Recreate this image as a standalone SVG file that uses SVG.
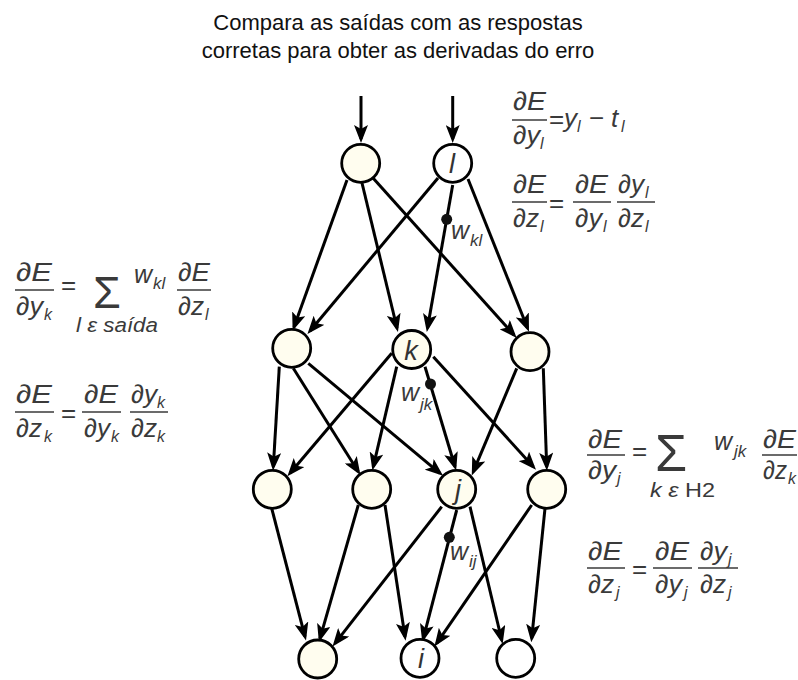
<svg xmlns="http://www.w3.org/2000/svg" width="798" height="680" viewBox="0 0 798 680">
<defs>
<marker id="ah" markerUnits="userSpaceOnUse" markerWidth="18" markerHeight="14" refX="14" refY="7" orient="auto" viewBox="0 0 18 14">
<path d="M0,0 L18,7 L0,14 L4,7 z" fill="#000"/>
</marker>
<style>
.title{font-family:"Liberation Sans",Arial,sans-serif;font-size:22px;fill:#111;text-anchor:middle}
.e{stroke:#000;stroke-width:3;fill:none;marker-end:url(#ah)}
.n{fill:#fffdef;stroke:#000;stroke-width:2.8}
.nw{fill:#fff;stroke:#000;stroke-width:2.8}
.lab{font-family:"Liberation Sans",Arial,sans-serif;font-style:italic;font-size:27px;fill:#333;text-anchor:middle}
.f{font-family:"Liberation Sans",Arial,sans-serif;font-style:italic;font-size:26px;fill:#3a3a3a}
.s{font-size:16px}
.up{font-style:normal}
.bar{stroke:#3a3a3a;stroke-width:1.6}
.w{font-family:"Liberation Sans",Arial,sans-serif;font-style:italic;font-size:25px;fill:#3a3a3a}
.ws{font-family:"Liberation Sans",Arial,sans-serif;font-style:italic;font-size:17px;fill:#3a3a3a}
.dot{fill:#111}
</style>
</defs>
<rect width="798" height="680" fill="#fff"/>
<text class="title" x="398" y="30">Compara as saídas com as respostas</text>
<text class="title" x="398" y="58">corretas para obter as derivadas do erro</text>

<g id="connectors">
<line class="e" x1="361" y1="96" x2="361" y2="139"/>
<line class="e" x1="452.7" y1="96" x2="452.7" y2="139"/>
<line class="e" x1="347" y1="180" x2="294" y2="327"/>
<line class="e" x1="362" y1="183" x2="397" y2="328"/>
<line class="e" x1="373" y1="178" x2="514" y2="335"/>
<line class="e" x1="438" y1="178" x2="310" y2="331"/>
<line class="e" x1="452.7" y1="185" x2="427.5" y2="328"/>
<line class="e" x1="468" y1="179" x2="527.5" y2="328"/>
<line class="e" x1="279.3" y1="366.7" x2="273.3" y2="466.7"/>
<line class="e" x1="293.3" y1="368.3" x2="358.3" y2="471.7"/>
<line class="e" x1="308.3" y1="363.3" x2="440" y2="473.3"/>
<line class="e" x1="391.7" y1="353.3" x2="290" y2="473.3"/>
<line class="e" x1="396.7" y1="366.7" x2="373.3" y2="466.7"/>
<line class="e" x1="425" y1="366.7" x2="455" y2="466.7"/>
<line class="e" x1="433.3" y1="356.7" x2="533.3" y2="466.7"/>
<line class="e" x1="516.7" y1="368.3" x2="473.3" y2="471.7"/>
<line class="e" x1="543.3" y1="368.3" x2="546.7" y2="466.7"/>
<line class="e" x1="271.7" y1="508.3" x2="305" y2="636.7"/>
<line class="e" x1="358.3" y1="505" x2="320" y2="638.3"/>
<line class="e" x1="385" y1="505" x2="405" y2="636.7"/>
<line class="e" x1="441.7" y1="506.7" x2="335" y2="643.3"/>
<line class="e" x1="456.7" y1="510" x2="423.3" y2="638.3"/>
<line class="e" x1="470" y1="506.7" x2="501.7" y2="640"/>
<line class="e" x1="531.7" y1="505" x2="436.7" y2="643.3"/>
<line class="e" x1="545" y1="508.3" x2="531.7" y2="638.3"/>
<circle class="dot" cx="446.7" cy="219.3" r="5.5"/>
<circle class="dot" cx="430.5" cy="384" r="5.5"/>
<circle class="dot" cx="449.3" cy="537.3" r="5.5"/>
<text class="w" x="451" y="239">w</text><text class="ws" x="470" y="246">kl</text>
<text class="w" x="401" y="401">w</text><text class="ws" x="420" y="410">jk</text>
<text class="w" x="450" y="560">w</text><text class="ws" x="469" y="567">ij</text>
</g>

<g id="node-a"><circle class="n" cx="360.7" cy="163.3" r="19"/></g>
<g id="node-l"><circle class="nw" cx="452.7" cy="163.3" r="19"/><text class="lab" x="452" y="173">l</text></g>
<g id="node-m1"><circle class="n" cx="291.7" cy="348.3" r="19"/></g>
<g id="node-k"><circle class="n" cx="411.7" cy="349.5" r="19"/><text class="lab" x="411" y="360">k</text></g>
<g id="node-m3"><circle class="n" cx="530" cy="351.7" r="19"/></g>
<g id="node-n1"><circle class="n" cx="272.3" cy="489.3" r="19"/></g>
<g id="node-n2"><circle class="n" cx="371.7" cy="489.3" r="19"/></g>
<g id="node-j"><circle class="n" cx="456.7" cy="489.3" r="19"/><text class="lab" x="458" y="499">j</text></g>
<g id="node-n4"><circle class="n" cx="546.7" cy="489.3" r="19"/></g>
<g id="node-b1"><circle class="n" cx="317.7" cy="659" r="19"/></g>
<g id="node-i"><circle class="nw" cx="420" cy="658.3" r="19"/><text class="lab" x="421" y="668">i</text></g>
<g id="node-b3"><circle class="nw" cx="515.7" cy="658.3" r="19"/></g>

<g id="formula-top-right">
<text class="f" x="513" y="110" textLength="33" lengthAdjust="spacingAndGlyphs">∂E</text>
<line class="bar" x1="512" y1="120" x2="547" y2="120"/>
<text class="f" x="513" y="144" textLength="27" lengthAdjust="spacingAndGlyphs">∂y</text><text class="f s" x="540" y="149">l</text>
<text class="f up" x="549" y="128">=</text>
<text class="f" x="564" y="127">y</text><text class="f s" x="577" y="132">l</text>
<text class="f up" x="589" y="127">−</text>
<text class="f" x="611" y="127">t</text><text class="f s" x="621" y="132">l</text>

<text class="f" x="513" y="193" textLength="33" lengthAdjust="spacingAndGlyphs">∂E</text>
<line class="bar" x1="512" y1="202" x2="547" y2="202"/>
<text class="f" x="513" y="227" textLength="26" lengthAdjust="spacingAndGlyphs">∂z</text><text class="f s" x="540" y="232">l</text>
<text class="f up" x="549" y="212">=</text>
<text class="f" x="575" y="193" textLength="33" lengthAdjust="spacingAndGlyphs">∂E</text>
<line class="bar" x1="573" y1="202" x2="611" y2="202"/>
<text class="f" x="575" y="227" textLength="27" lengthAdjust="spacingAndGlyphs">∂y</text><text class="f s" x="603" y="232">l</text>
<text class="f" x="618" y="193" textLength="26" lengthAdjust="spacingAndGlyphs">∂y</text><text class="f s" x="645" y="198">l</text>
<line class="bar" x1="617" y1="202" x2="655" y2="202"/>
<text class="f" x="618" y="227" textLength="26" lengthAdjust="spacingAndGlyphs">∂z</text><text class="f s" x="645" y="232">l</text>
</g>

<g id="formula-left">
<text class="f" x="16" y="281" textLength="36" lengthAdjust="spacingAndGlyphs">∂E</text>
<line class="bar" x1="15" y1="290" x2="54" y2="290"/>
<text class="f" x="16" y="315" textLength="27" lengthAdjust="spacingAndGlyphs">∂y</text><text class="f s" x="44" y="320">k</text>
<text class="f up" x="61" y="294">=</text>
<text class="f up" x="93" y="308" style="font-size:45px">Σ</text>
<text class="w" x="134" y="283">w</text><text class="ws" x="153" y="289">kl</text>
<text class="f" x="178" y="281" textLength="32" lengthAdjust="spacingAndGlyphs">∂E</text>
<line class="bar" x1="177" y1="290" x2="211" y2="290"/>
<text class="f" x="178" y="315" textLength="26" lengthAdjust="spacingAndGlyphs">∂z</text><text class="f s" x="205" y="320">l</text>
<text class="f" x="76" y="332" style="font-size:20px" textLength="82" lengthAdjust="spacingAndGlyphs">l ε saída</text>

<text class="f" x="16" y="403" textLength="36" lengthAdjust="spacingAndGlyphs">∂E</text>
<line class="bar" x1="15" y1="412" x2="54" y2="412"/>
<text class="f" x="16" y="437" textLength="26" lengthAdjust="spacingAndGlyphs">∂z</text><text class="f s" x="44" y="442">k</text>
<text class="f up" x="61" y="422">=</text>
<text class="f" x="84" y="403" textLength="34" lengthAdjust="spacingAndGlyphs">∂E</text>
<line class="bar" x1="82" y1="412" x2="121" y2="412"/>
<text class="f" x="84" y="437" textLength="26" lengthAdjust="spacingAndGlyphs">∂y</text><text class="f s" x="111" y="442">k</text>
<text class="f" x="131" y="403" textLength="26" lengthAdjust="spacingAndGlyphs">∂y</text><text class="f s" x="157" y="408">k</text>
<line class="bar" x1="130" y1="412" x2="168" y2="412"/>
<text class="f" x="131" y="437" textLength="26" lengthAdjust="spacingAndGlyphs">∂z</text><text class="f s" x="157" y="442">k</text>
</g>

<g id="formula-right">
<text class="f" x="588" y="448" textLength="34" lengthAdjust="spacingAndGlyphs">∂E</text>
<line class="bar" x1="587" y1="455" x2="625" y2="455"/>
<text class="f" x="588" y="479" textLength="28" lengthAdjust="spacingAndGlyphs">∂y</text><text class="f s" x="617" y="484">j</text>
<text class="f up" x="632" y="460">=</text>
<text class="f up" x="655" y="471" style="font-size:52px">Σ</text>
<text class="w" x="714" y="450">w</text><text class="ws" x="734" y="457">jk</text>
<text class="f" x="763" y="448" textLength="33" lengthAdjust="spacingAndGlyphs">∂E</text>
<line class="bar" x1="762" y1="455" x2="797" y2="455"/>
<text class="f" x="763" y="479" textLength="24" lengthAdjust="spacingAndGlyphs">∂z</text><text class="f s" x="788" y="484">k</text>
<text class="f" x="650" y="497" style="font-size:20px" textLength="65" lengthAdjust="spacingAndGlyphs">k ε <tspan class="up">H2</tspan></text>

<text class="f" x="588" y="560" textLength="34" lengthAdjust="spacingAndGlyphs">∂E</text>
<line class="bar" x1="587" y1="568" x2="625" y2="568"/>
<text class="f" x="588" y="593" textLength="26" lengthAdjust="spacingAndGlyphs">∂z</text><text class="f s" x="616" y="598">j</text>
<text class="f up" x="632" y="578">=</text>
<text class="f" x="655" y="560" textLength="34" lengthAdjust="spacingAndGlyphs">∂E</text>
<line class="bar" x1="653" y1="568" x2="692" y2="568"/>
<text class="f" x="655" y="593" textLength="27" lengthAdjust="spacingAndGlyphs">∂y</text><text class="f s" x="684" y="598">j</text>
<text class="f" x="700" y="560" textLength="27" lengthAdjust="spacingAndGlyphs">∂y</text><text class="f s" x="728" y="565">j</text>
<line class="bar" x1="698" y1="568" x2="738" y2="568"/>
<text class="f" x="700" y="593" textLength="26" lengthAdjust="spacingAndGlyphs">∂z</text><text class="f s" x="728" y="598">j</text>
</g>
</svg>
